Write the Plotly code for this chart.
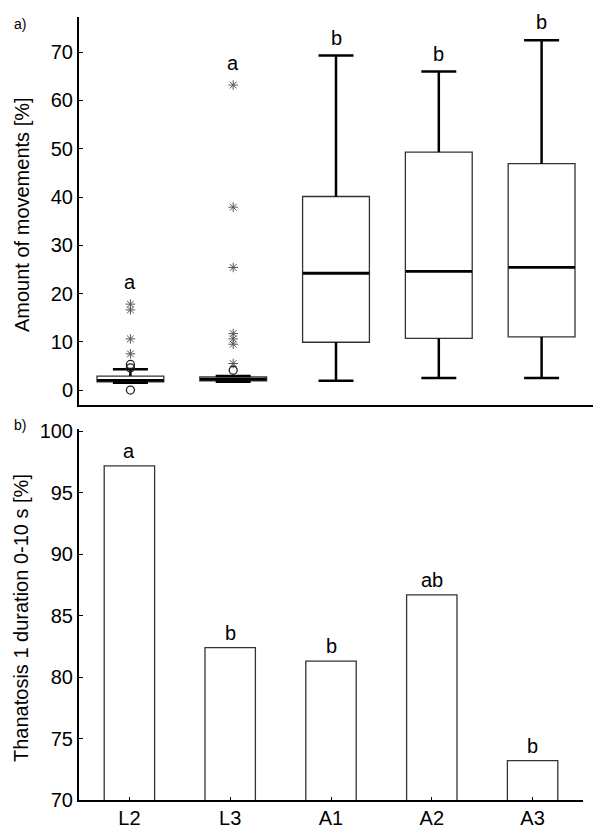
import plotly.graph_objects as go

categories = ["L2", "L3", "A1", "A2", "A3"]

# panel a) box statistics
box_lower = [1.5, 1.7, 1.9, 2.5, 2.5]
box_q1 = [1.7, 1.9, 9.9, 10.7, 11.0]
box_median = [2.0, 2.2, 24.2, 24.6, 25.4]
box_q3 = [2.9, 2.7, 40.1, 49.3, 46.9]
box_upper = [4.3, 2.9, 69.3, 66.0, 72.5]
# outliers (stars = extremes, circles = outliers)
star_cat = ["L2", "L2", "L2", "L2", "L3", "L3", "L3", "L3", "L3", "L3", "L3"]
star_val = [7.5, 10.6, 16.6, 17.8, 63.2, 37.9, 25.4, 11.7, 10.6, 9.5, 5.5]
circle_cat = ["L2", "L2", "L2", "L3"]
circle_val = [0.0, 4.6, 5.3, 4.1]
letters_a = ["a", "a", "b", "b", "b"]

# panel b) bars
bar_values = [97.2, 82.4, 81.3, 86.7, 73.2]
letters_b = ["a", "b", "b", "ab", "b"]

pos = list(range(len(categories)))
idx = {c: i for i, c in enumerate(categories)}

FONT = "Arial, Liberation Sans, sans-serif"
BOXW = 0.65

fig = go.Figure()

# boxes (thin outline)
fig.add_trace(go.Box(
    x=pos, q1=box_q1, median=box_median, q3=box_q3,
    lowerfence=box_q1, upperfence=box_q3, width=BOXW,
    fillcolor="white", line=dict(color="#333333", width=1.3),
    xaxis="x", yaxis="y", showlegend=False, hoverinfo="skip"))

# whiskers
wx, wy = [], []
for i in pos:
    wx += [i, i, None, i, i, None]
    wy += [box_q3[i], box_upper[i], None, box_q1[i], box_lower[i], None]
fig.add_trace(go.Scatter(x=wx, y=wy, mode="lines", line=dict(color="black", width=2.5),
                         xaxis="x", yaxis="y", showlegend=False, hoverinfo="skip"))
# caps (line-ew length = 1.4 * size)
fig.add_trace(go.Scatter(x=pos + pos, y=box_upper + box_lower, mode="markers",
                         marker=dict(symbol="line-ew", size=25, color="black",
                                     line=dict(color="black", width=2.5)),
                         xaxis="x", yaxis="y", showlegend=False, hoverinfo="skip"))
# medians
fig.add_trace(go.Scatter(x=pos, y=box_median, mode="markers",
                         marker=dict(symbol="line-ew", size=47.5, color="black",
                                     line=dict(color="black", width=2.8)),
                         xaxis="x", yaxis="y", showlegend=False, hoverinfo="skip"))
# outliers
fig.add_trace(go.Scatter(x=[idx[c] for c in star_cat], y=star_val, mode="markers",
                         marker=dict(symbol="asterisk-open", size=8, color="#555555",
                                     line=dict(color="#555555", width=1)),
                         xaxis="x", yaxis="y", showlegend=False, hoverinfo="skip"))
fig.add_trace(go.Scatter(x=[idx[c] for c in circle_cat], y=circle_val, mode="markers",
                         marker=dict(symbol="circle-open", size=8, color="#222222",
                                     line=dict(color="#222222", width=1.3)),
                         xaxis="x", yaxis="y", showlegend=False, hoverinfo="skip"))

# bars
fig.add_trace(go.Bar(x=pos, y=bar_values, width=0.5,
                     marker=dict(color="white", line=dict(color="#333333", width=1.3)),
                     xaxis="x2", yaxis="y2", showlegend=False, hoverinfo="skip"))

annotations = []
for i, c in enumerate(categories):
    top = max([box_upper[i]] + [v for cc, v in zip(star_cat, star_val) if cc == c]
              + [v for cc, v in zip(circle_cat, circle_val) if cc == c])
    annotations.append(dict(x=i, y=top, xref="x", yref="y", text=letters_a[i], showarrow=False,
                            yanchor="middle", yshift=22 if letters_a[i] == "a" else 18,
                            font=dict(family=FONT, size=20, color="black")))
for i, c in enumerate(categories):
    annotations.append(dict(x=i, y=bar_values[i], xref="x2", yref="y2", text=letters_b[i], showarrow=False,
                            yanchor="middle", yshift=15, font=dict(family=FONT, size=20, color="black")))

annotations += [
    dict(x=22 / 600, y=1 - 215 / 838, xref="paper", yref="paper", text="Amount of movements [%]",
         textangle=-90, showarrow=False, xanchor="center", yanchor="middle",
         font=dict(family=FONT, size=20, color="black")),
    dict(x=21 / 600, y=1 - 618 / 838, xref="paper", yref="paper", text="Thanatosis 1 duration 0-10 s [%]",
         textangle=-90, showarrow=False, xanchor="center", yanchor="middle",
         font=dict(family=FONT, size=20, color="black")),
    dict(x=12 / 600, y=1 - 24 / 838, xref="paper", yref="paper", text="a)", showarrow=False,
         xanchor="left", yanchor="middle", font=dict(family=FONT, size=14, color="black")),
    dict(x=12 / 600, y=1 - 425 / 838, xref="paper", yref="paper", text="b)", showarrow=False,
         xanchor="left", yanchor="middle", font=dict(family=FONT, size=14, color="black")),
]

tickfont = dict(family=FONT, size=20, color="black")
fig.update_layout(
    template="none",
    autosize=False,
    width=600, height=838,
    margin=dict(l=0, r=0, t=0, b=0, pad=0),
    paper_bgcolor="white", plot_bgcolor="white",
    showlegend=False,
    annotations=annotations,
    xaxis=dict(domain=[79 / 600, 593 / 600], range=[-0.5, 4.5], anchor="y", automargin=False,
               showline=True, linecolor="black", linewidth=2, showgrid=False, zeroline=False,
               showticklabels=False, ticks=""),
    yaxis=dict(domain=[1 - 405 / 838, 1 - 17 / 838], range=[-3.1, 77.3], anchor="x", automargin=False,
               tickvals=[0, 10, 20, 30, 40, 50, 60, 70],
               showline=True, linecolor="black", linewidth=2, showgrid=False, zeroline=False,
               ticks="inside", ticklen=4, tickwidth=1, tickcolor="black",
               tickfont=tickfont, ticklabelstandoff=0),
    xaxis2=dict(domain=[79 / 600, 583 / 600], range=[-0.5, 4.5], anchor="y2", automargin=False,
                tickvals=pos, ticktext=categories,
                showline=True, linecolor="black", linewidth=2, showgrid=False, zeroline=False,
                ticks="inside", ticklen=3, tickwidth=1, tickcolor="black",
                tickfont=tickfont, ticklabelstandoff=-1),
    yaxis2=dict(domain=[1 - 800 / 838, 1 - 429 / 838], range=[70, 100.2], anchor="x2", automargin=False,
                tickvals=[70, 75, 80, 85, 90, 95, 100],
                showline=True, linecolor="black", linewidth=2, showgrid=False, zeroline=False,
                ticks="inside", ticklen=4, tickwidth=1, tickcolor="black",
                tickfont=tickfont, ticklabelstandoff=0),
)

fig.write_html("out.html", config={"displayModeBar": False, "responsive": False},
               post_script="document.body.style.margin='0';document.body.style.overflow='hidden';")
